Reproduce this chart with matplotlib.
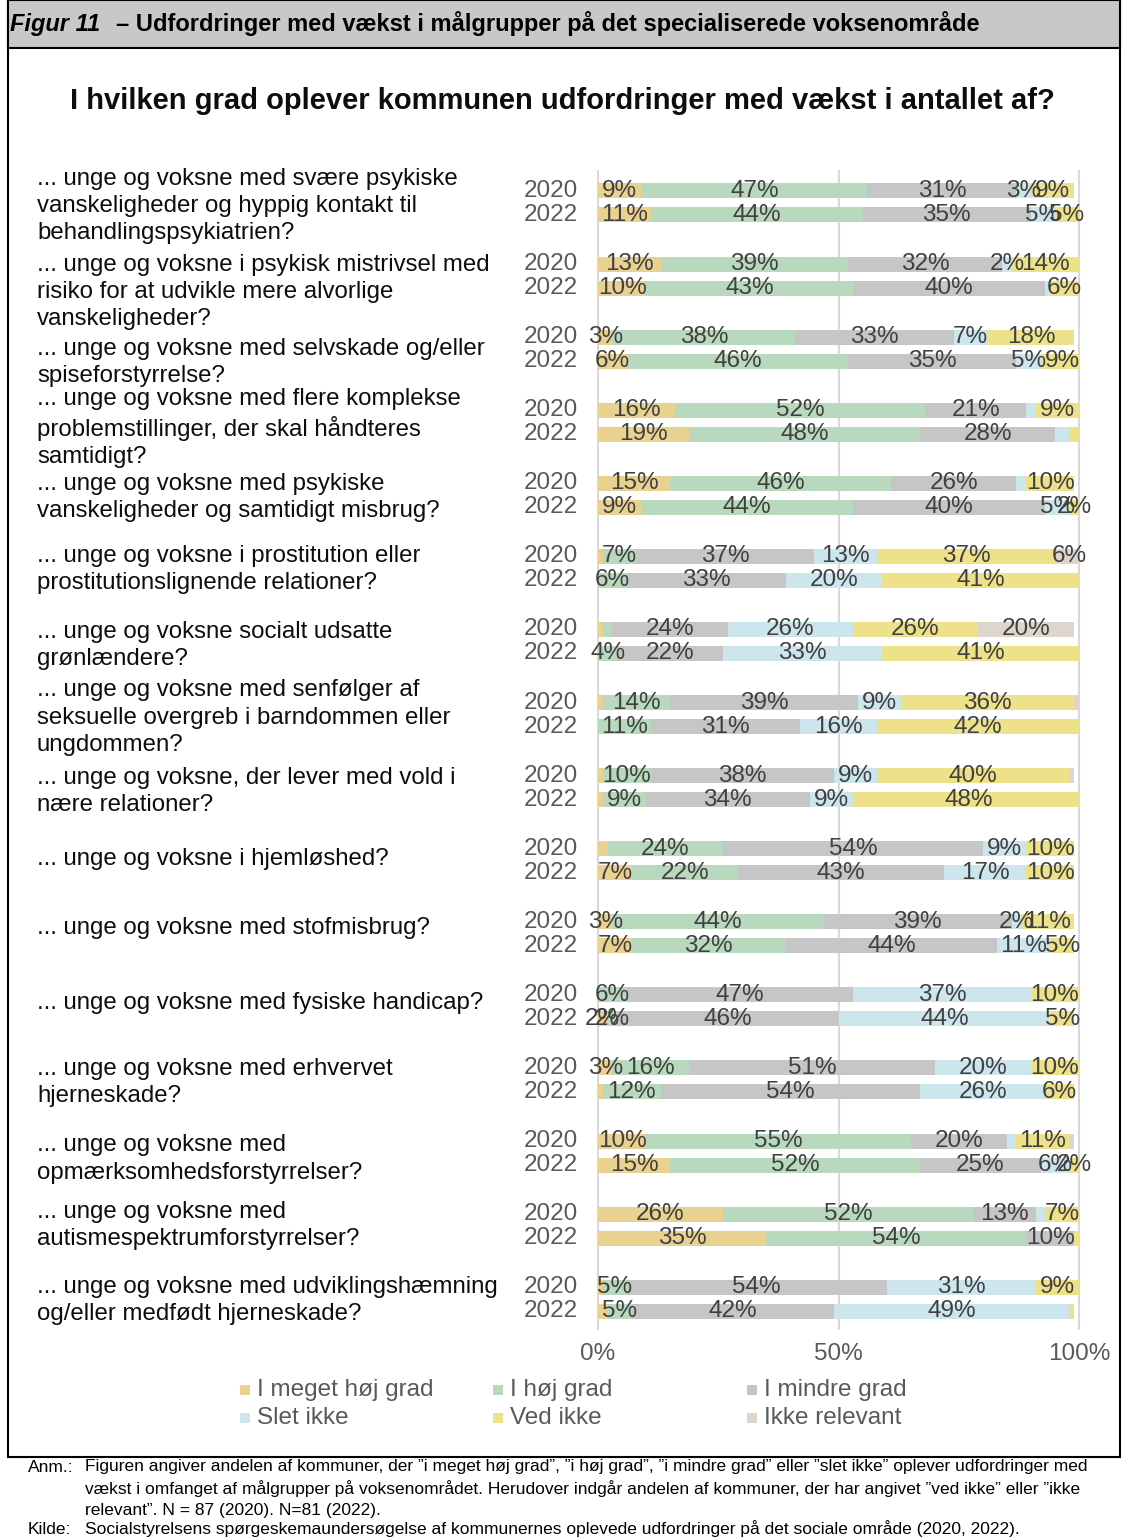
import matplotlib
matplotlib.use('Agg')
import matplotlib.pyplot as plt
import matplotlib.transforms as mtransforms
from matplotlib.patches import Rectangle

plt.rcParams['font.family'] = ['Liberation Sans', 'DejaVu Sans']

categories = [
    "... unge og voksne med svære psykiske\nvanskeligheder og hyppig kontakt til\nbehandlingspsykiatrien?",
    "... unge og voksne i psykisk mistrivsel med\nrisiko for at udvikle mere alvorlige\nvanskeligheder?",
    "... unge og voksne med selvskade og/eller\nspiseforstyrrelse?",
    "... unge og voksne med flere komplekse\nproblemstillinger, der skal håndteres\nsamtidigt?",
    "... unge og voksne med psykiske\nvanskeligheder og samtidigt misbrug?",
    "... unge og voksne i prostitution eller\nprostitutionslignende relationer?",
    "... unge og voksne socialt udsatte\ngrønlændere?",
    "... unge og voksne med senfølger af\nseksuelle overgreb i barndommen eller\nungdommen?",
    "... unge og voksne, der lever med vold i\nnære relationer?",
    "... unge og voksne i hjemløshed?",
    "... unge og voksne med stofmisbrug?",
    "... unge og voksne med fysiske handicap?",
    "... unge og voksne med erhvervet\nhjerneskade?",
    "... unge og voksne med\nopmærksomhedsforstyrrelser?",
    "... unge og voksne med\nautismespektrumforstyrrelser?",
    "... unge og voksne med udviklingshæmning\nog/eller medfødt hjerneskade?",
]
years = ["2020", "2022"]
series = ["I meget høj grad", "I høj grad", "I mindre grad",
          "Slet ikke", "Ved ikke", "Ikke relevant"]
colors = ["#E9D18F", "#B9D9BF", "#C6C6C7", "#CDE5EC", "#EDE28A", "#DED6CC"]

# meget høj, høj, mindre, slet ikke, ved ikke, ikke relevant
vals_2020 = [
    [9, 47, 31, 3, 9, 0],
    [13, 39, 32, 2, 14, 0],
    [3, 38, 33, 7, 18, 0],
    [16, 52, 21, 2, 9, 0],
    [15, 46, 26, 2, 10, 0],
    [1, 7, 37, 13, 37, 6],
    [1, 2, 24, 26, 26, 20],
    [1, 14, 39, 9, 36, 1],
    [1, 10, 38, 9, 40, 1],
    [2, 24, 54, 9, 10, 0],
    [3, 44, 39, 2, 11, 0],
    [0, 6, 47, 37, 10, 0],
    [3, 16, 51, 20, 10, 0],
    [10, 55, 20, 2, 11, 1],
    [26, 52, 13, 2, 7, 0],
    [1, 5, 54, 31, 9, 0],
]
vals_2022 = [
    [11, 44, 35, 5, 5, 0],
    [10, 43, 40, 1, 6, 0],
    [6, 46, 35, 5, 9, 0],
    [19, 48, 28, 3, 2, 0],
    [9, 44, 40, 5, 2, 0],
    [0, 6, 33, 20, 41, 0],
    [0, 4, 22, 33, 41, 0],
    [0, 11, 31, 16, 42, 0],
    [1, 9, 34, 9, 48, 0],
    [7, 22, 43, 17, 10, 0],
    [7, 32, 44, 11, 5, 0],
    [2, 2, 46, 44, 5, 0],
    [1, 12, 54, 26, 6, 0],
    [15, 52, 25, 6, 2, 0],
    [35, 54, 10, 0, 1, 0],
    [2, 5, 42, 49, 1, 0],
]
# labels missing in the original (row, year, segment)
no_label = [(3, 0, 3), (3, 1, 3), (3, 1, 4), (4, 0, 3), (6, 0, 1),
            (9, 0, 0), (13, 0, 3), (14, 0, 3), (15, 1, 0)]

# small vertical nudges (px) of the category labels, like in the excel chart
lab_shift = [3, 16, 13, 6, 2, 1, 4, 3, 4, -2, -6, -4, 3, 6, -1, 1]

W, H = 1123, 1539
fig = plt.figure(figsize=(W / 100, H / 100), dpi=100)


def fx(px):
    return px / W


def fy(py):
    return 1 - py / H


# frame + header band
fig.add_artist(Rectangle((fx(8), fy(1457)), fx(1120) - fx(8), 1457 / H,
                         transform=fig.transFigure, facecolor='white',
                         edgecolor='black', lw=1.5, zorder=0))
fig.add_artist(Rectangle((fx(8), fy(48)), fx(1120) - fx(8), 48 / H,
                         transform=fig.transFigure, facecolor='#C8C8C8',
                         edgecolor='black', lw=1.5, zorder=0))
fig.text(fx(10), fy(24), "Figur 11", fontsize=17, fontweight='bold',
         style='italic', va='center')
fig.text(fx(116), fy(24), "– Udfordringer med vækst i målgrupper på det specialiserede voksenområde",
         fontsize=17, fontweight='bold', va='center')

fig.text(fx(562), fy(101), "I hvilken grad oplever kommunen udfordringer med vækst i antallet af?",
         ha='center', va='center', fontsize=21, fontweight='bold', color='#0D0D0D')

ax = fig.add_axes([fx(598), fy(1335), fx(1079) - fx(598), (1335 - 160) / H])
ax.set_xlim(0, 100)
ax.set_ylim(15.49, -0.588)
for s in ax.spines.values():
    s.set_visible(False)
ax.vlines([0, 50, 100], -0.45, 15.42, color='#D9D9D9', lw=1.5, zorder=0, clip_on=False)

off = 0.164
px_per_row = 73.07
for i, cat in enumerate(categories):
    for j, vals in enumerate([vals_2020[i], vals_2022[i]]):
        y = i - off if j == 0 else i + off
        left = 0
        for k, v in enumerate(vals):
            if v > 0:
                ax.barh(y, v, left=left, height=0.205, color=colors[k], linewidth=0, zorder=2)
                if v >= 2 and (i, j, k) not in no_label:
                    ax.text(left + v / 2, y, f"{v}%", ha='center', va='center',
                            fontsize=17.5, color='#404040', zorder=3)
            left += v
        ax.text(-4.2, y, years[j], ha='right', va='center', fontsize=17.5, color='#595959')

trans = mtransforms.blended_transform_factory(fig.transFigure, ax.transData)
for i, cat in enumerate(categories):
    ax.text(fx(37), i + lab_shift[i] / px_per_row, cat, transform=trans, ha='left', va='center',
            fontsize=17.3, color='#0D0D0D', linespacing=1.3)

ax.set_yticks([])
ax.set_xticks([0, 50, 100])
ax.set_xticklabels(["0%", "50%", "100%"])
ax.tick_params(axis='x', length=0, pad=6, labelsize=17.5, labelcolor='#595959')

# legend
leg_x = [240, 493, 747]
leg_y = [1390, 1418]
for idx, (name, c) in enumerate(zip(series, colors)):
    x = leg_x[idx % 3]
    y = leg_y[idx // 3]
    fig.add_artist(Rectangle((fx(x), fy(y + 5)), 10 / W, 10 / H,
                             transform=fig.transFigure, facecolor=c, lw=0))
    fig.text(fx(x + 17), fy(y), name, va='center', fontsize=17.5, color='#595959')

# notes
fs = 12.5
fig.text(fx(28), fy(1468), "Anm.:", fontsize=fs, va='center')
note = [
    "Figuren angiver andelen af kommuner, der ”i meget høj grad”, ”i høj grad”, ”i mindre grad” eller ”slet ikke” oplever udfordringer med",
    "vækst i omfanget af målgrupper på voksenområdet. Herudover indgår andelen af kommuner, der har angivet ”ved ikke” eller ”ikke",
    "relevant”. N = 87 (2020). N=81 (2022).",
]
for n, line in enumerate(note):
    fig.text(fx(85), fy(1467 + 21.5 * n), line, fontsize=fs, va='center')
fig.text(fx(28), fy(1529), "Kilde:", fontsize=fs, va='center')
fig.text(fx(85), fy(1529),
         "Socialstyrelsens spørgeskemaundersøgelse af kommunernes oplevede udfordringer på det sociale område (2020, 2022).",
         fontsize=fs, va='center')

fig.savefig("out.png", dpi=100)
